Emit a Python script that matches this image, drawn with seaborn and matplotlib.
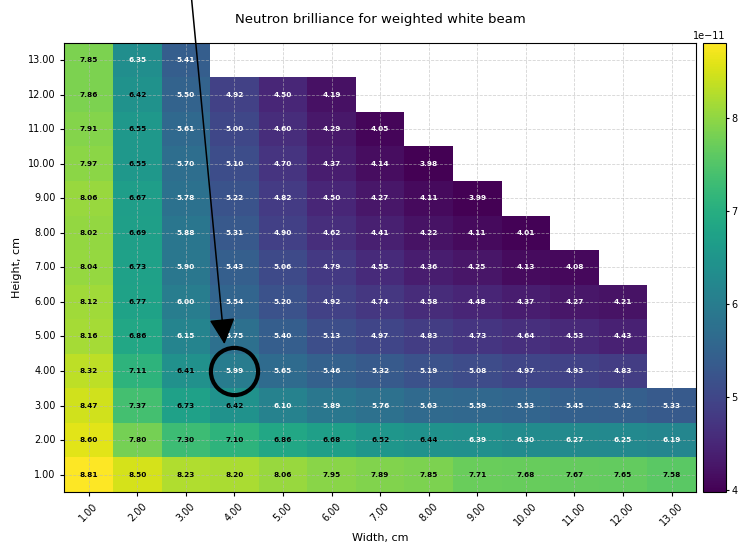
import numpy as np
import pandas as pd
import matplotlib
matplotlib.use("Agg")
import matplotlib.pyplot as plt
import seaborn as sns

# Beam size grid, cm
widths = [1, 2, 3, 4, 5, 6, 7, 8, 9, 10, 11, 12, 13]
heights = [13, 12, 11, 10, 9, 8, 7, 6, 5, 4, 3, 2, 1]  # top row first, as drawn

# Brilliance values (x 1e-11), one list per height, missing cells left out
row_h13 = [7.85, 6.35, 5.41]
row_h12 = [7.86, 6.42, 5.50, 4.92, 4.50, 4.19]
row_h11 = [7.91, 6.55, 5.61, 5.00, 4.60, 4.29, 4.05]
row_h10 = [7.97, 6.55, 5.70, 5.10, 4.70, 4.37, 4.14, 3.98]
row_h9 = [8.06, 6.67, 5.78, 5.22, 4.82, 4.50, 4.27, 4.11, 3.99]
row_h8 = [8.02, 6.69, 5.88, 5.31, 4.90, 4.62, 4.41, 4.22, 4.11, 4.01]
row_h7 = [8.04, 6.73, 5.90, 5.43, 5.06, 4.79, 4.55, 4.36, 4.25, 4.13, 4.08]
row_h6 = [8.12, 6.77, 6.00, 5.54, 5.20, 4.92, 4.74, 4.58, 4.48, 4.37, 4.27, 4.21]
row_h5 = [8.16, 6.86, 6.15, 5.75, 5.40, 5.13, 4.97, 4.83, 4.73, 4.64, 4.53, 4.43]
row_h4 = [8.32, 7.11, 6.41, 5.99, 5.65, 5.46, 5.32, 5.19, 5.08, 4.97, 4.93, 4.83]
row_h3 = [8.47, 7.37, 6.73, 6.42, 6.10, 5.89, 5.76, 5.63, 5.59, 5.53, 5.45, 5.42, 5.33]
row_h2 = [8.60, 7.80, 7.30, 7.10, 6.86, 6.68, 6.52, 6.44, 6.39, 6.30, 6.27, 6.25, 6.19]
row_h1 = [8.81, 8.50, 8.23, 8.20, 8.06, 7.95, 7.89, 7.85, 7.71, 7.68, 7.67, 7.65, 7.58]

rows = [row_h13, row_h12, row_h11, row_h10, row_h9, row_h8, row_h7,
        row_h6, row_h5, row_h4, row_h3, row_h2, row_h1]

# highlighted beam (width, height)
best_w, best_h = 4, 4

scaled = np.full((len(heights), len(widths)), np.nan)
for i, r in enumerate(rows):
    scaled[i, :len(r)] = r
df = pd.DataFrame(scaled * 1e-11, index=heights, columns=widths)

fig = plt.figure(figsize=(7.41, 5.42), dpi=100)
ax = fig.add_axes([0.087, 0.0923, 0.852, 0.8287])
cax = fig.add_axes([0.9487, 0.0923, 0.0304, 0.8287])

sns.heatmap(df, ax=ax, cbar_ax=cax, cmap="viridis", mask=df.isna())

# frame and colorbar outline back on
for s in ax.spines.values():
    s.set_visible(True)
    s.set_linewidth(0.8)
cbar = ax.collections[0].colorbar
cbar.outline.set_linewidth(0.8)
cax.tick_params(labelsize=7, length=2.5, pad=1.5)
cax.yaxis.get_offset_text().set_fontsize(7)

# annotations, dark text on bright half of the map
vmin, vmax = np.nanmin(scaled), np.nanmax(scaled)
mid = (vmin + vmax) / 2
for i in range(len(heights)):
    for j in range(len(widths)):
        v = scaled[i, j]
        if np.isnan(v):
            continue
        ax.text(j + 0.5, i + 0.5, f"{v:.2f}", ha="center", va="center",
                fontsize=5.3, fontweight="bold",
                color="black" if v > mid else "white")

ax.set_xticks(np.arange(len(widths)) + 0.5)
ax.set_xticklabels([f"{w:.2f}" for w in widths], rotation=45, ha="center", fontsize=7)
ax.set_yticks(np.arange(len(heights)) + 0.5)
ax.set_yticklabels([f"{h:.2f}" for h in heights], rotation=0, fontsize=7)
ax.tick_params(length=3)
ax.grid(True, linestyle="--", color="#b8b8b8", linewidth=0.6, alpha=0.6)

ax.set_xlabel("Width, cm", fontsize=8)
ax.set_ylabel("Height, cm", fontsize=8)
ax.set_title("Neutron brilliance for weighted white beam", fontsize=9.5, pad=14)

# circle + arrow on the chosen beam
cx = widths.index(best_w) + 0.5
cy = heights.index(best_h) + 0.5
ax.plot(cx, cy, marker="o", ms=34, mfc="none", mec="black", mew=3, clip_on=False)
ax.annotate("", xy=(cx - 0.2, cy - 0.7), xytext=(cx - 1.0, cy - 12.5),
            arrowprops=dict(arrowstyle="-|>", mutation_scale=40, color="black", lw=1.1),
            annotation_clip=False)

fig.savefig("out.png", dpi=100)
